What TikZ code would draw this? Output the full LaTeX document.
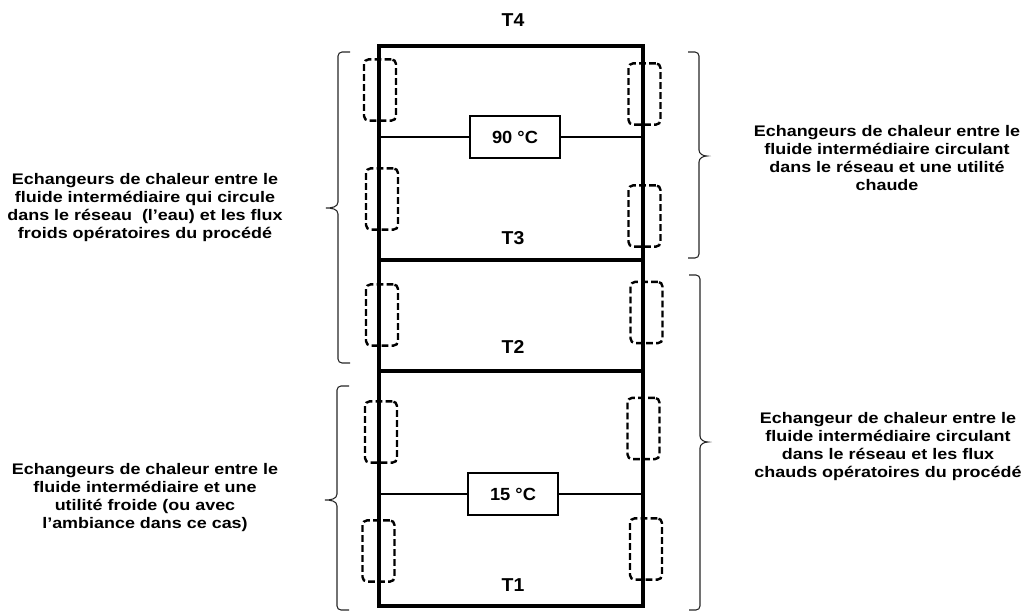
\documentclass[tikz,border=0pt]{standalone}
\usepackage{fontspec}
\setmainfont{Liberation Sans}
\newfontfamily\descfont[FakeStretch=1.17]{Liberation Sans}
\newfontfamily\lblfont[FakeStretch=1.04]{Liberation Sans}
\begin{document}
\begin{tikzpicture}[x=0.75pt,y=-0.75pt,
  wall/.style={line width=3pt},
  pipe/.style={line width=1.5pt},
  hx/.style={draw, dash pattern=on 5pt off 2.5pt, line width=1.8pt, rounded corners=3.5pt,
    minimum width=24pt, minimum height=46pt, inner sep=0pt},
  tempbox/.style={draw, line width=1.5pt, minimum width=67.5pt, minimum height=31pt, inner sep=0pt,
    font=\lblfont\bfseries\fontsize{13.2}{14}\selectfont},
  tlabel/.style={font=\lblfont\bfseries\fontsize{14}{15}\selectfont},
  desc/.style={align=center, font=\descfont\bfseries\fontsize{11.5}{13.5}\selectfont, inner sep=0pt},
  brace/.style={line width=0.8pt, draw=black!85, rounded corners=3pt},
  bracetip/.style={line width=0.8pt, draw=black!85}
]
\useasboundingbox (0,0) rectangle (1024,612);

% walls
\coordinate (NW) at (379,46);
\coordinate (NE) at (643,46);
\coordinate (SW) at (379,606);
\coordinate (SE) at (643,606);
\coordinate (L3) at (379,260);
\coordinate (R3) at (643,260);
\coordinate (L2) at (379,371);
\coordinate (R2) at (643,371);
\coordinate (L90) at (379,137);
\coordinate (R90) at (643,137);
\coordinate (L15) at (379,494);
\coordinate (R15) at (643,494);

% exchangers (dashed)
\node[hx] (hxL1) at (380,90) {};
\node[hx] (hxL2) at (382,199) {};
\node[hx] (hxL3) at (382,315) {};
\node[hx] (hxL4) at (381,432) {};
\node[hx] (hxL5) at (378.5,551) {};
\node[hx] (hxR1) at (644.5,94) {};
\node[hx] (hxR2) at (644.5,216) {};
\node[hx] (hxR3) at (646.5,312.5) {};
\node[hx] (hxR4) at (643.5,428.5) {};
\node[hx] (hxR5) at (646,549) {};

% temperature boxes
\node[tempbox] (t90) at (515,137) {90 °C};
\node[tempbox] (t15) at (513,494) {15 °C};
\draw[pipe] (L90) -- (t90.west);
\draw[pipe] (t90.east) -- (R90);
\draw[pipe] (L15) -- (t15.west);
\draw[pipe] (t15.east) -- (R15);

\draw[wall] (L3) -- (R3);
\draw[wall] (L2) -- (R2);
\draw[wall, line join=miter] (NW) -- (NE) -- (SE) -- (SW) -- cycle;

% level labels
\node[tlabel] (T4) at (513,20) {T4};
\node[tlabel] (T3) at (513,238) {T3};
\node[tlabel] (T2) at (513,347) {T2};
\node[tlabel] (T1) at (513,585) {T1};

% braces
\draw[brace] (350,52) -- (338,52) -- (338,202);
\draw[bracetip] (338,202) to[out=-90,in=0] (326,208) to[out=0,in=90] (338,214);
\draw[brace] (338,214) -- (338,363) -- (350,363);

\draw[brace] (349,386) -- (337,386) -- (337,494);
\draw[bracetip] (337,494) to[out=-90,in=0] (325,500) to[out=0,in=90] (337,506);
\draw[brace] (337,506) -- (337,610) -- (349,610);

\draw[brace] (688,52) -- (699,52) -- (699,150);
\draw[bracetip] (699,150) to[out=-90,in=180] (707,156) to[out=180,in=90] (699,162);
\draw[brace] (699,162) -- (699,258) -- (688,258);

\draw[brace] (689,275) -- (700,275) -- (700,436);
\draw[bracetip] (700,436) to[out=-90,in=180] (708,442) to[out=180,in=90] (700,448);
\draw[brace] (700,448) -- (700,610) -- (689,610);

% descriptions
\node[desc] (dL1) at (145,208) {Echangeurs de chaleur entre le\\fluide intermédiaire qui circule\\dans le réseau \ (l’eau) et les flux\\froids opératoires du procédé};
\node[desc] (dL2) at (145,498) {Echangeurs de chaleur entre le\\fluide intermédiaire et une\\utilité froide (ou avec\\l’ambiance dans ce cas)};
\node[desc] (dR1) at (887,158) {Echangeurs de chaleur entre le\\fluide intermédiaire circulant\\dans le réseau et une utilité\\chaude};
\node[desc] (dR2) at (888,447) {Echangeur de chaleur entre le\\fluide intermédiaire circulant\\dans le réseau et les flux\\chauds opératoires du procédé};
\end{tikzpicture}
\end{document}
